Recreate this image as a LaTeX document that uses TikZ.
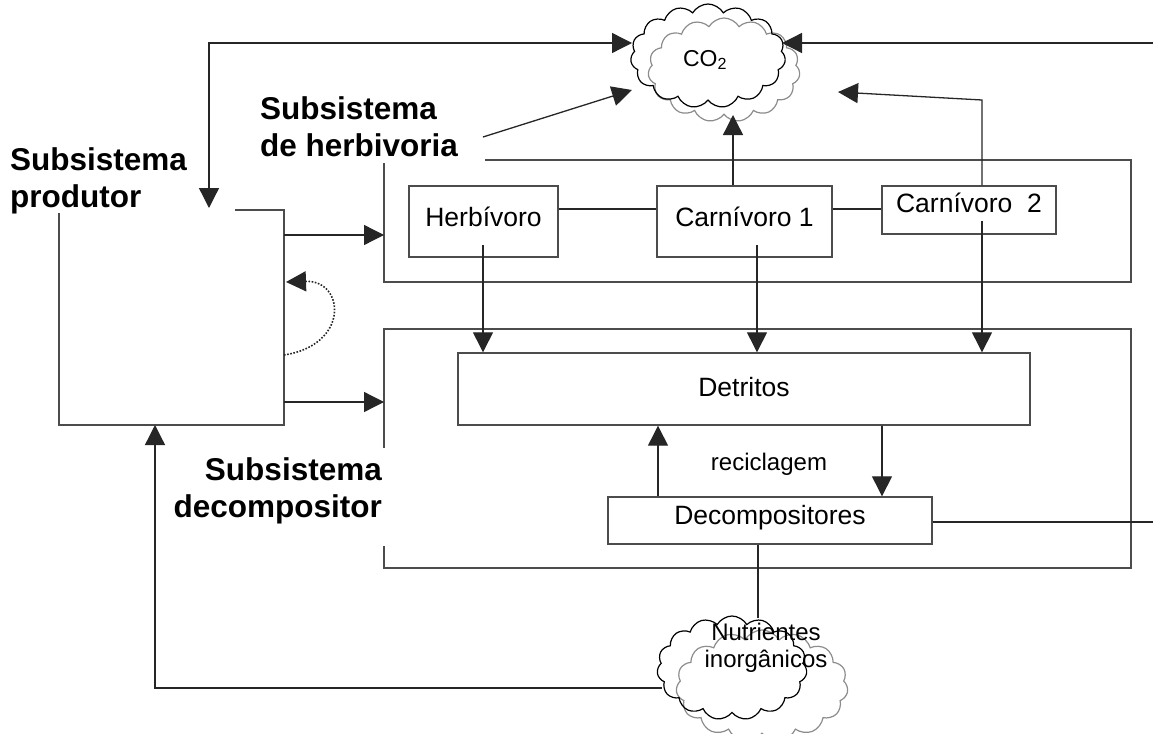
\documentclass[tikz,border=0pt]{standalone}
\usepackage{fontspec}
\setmainfont{Liberation Sans}
\usetikzlibrary{arrows.meta,shapes.symbols,calc}
\begin{document}
\begin{tikzpicture}[x=1pt,y=-1pt,
  ln/.style={line width=1.3pt, draw=black!85},
  frame/.style={line width=1.4pt, draw=black!70},
  tip/.style={-{Triangle[length=20pt,width=20pt]}},
  arr/.style={ln,tip},
  box/.style={frame, inner sep=0pt, text height=19pt, font=\fontsize{26.5}{30}\selectfont},
  sub/.style={font=\fontsize{31.5}{37}\bfseries\selectfont, inner sep=0pt},
  txt/.style={font=\fontsize{24}{27}\selectfont, inner sep=0pt, align=center},
  puffy/.style={cloud, cloud puffs=15, cloud puff arc=120, aspect=1.5,
    draw=black, line width=1.2pt, inner sep=0pt},
  puffyg/.style={puffy, draw=black!45},
]
\useasboundingbox (0,0) rectangle (1153,733);

% clouds
\node[puffyg, minimum width=152pt, minimum height=104pt] (co2g) at (724,70) {};
\node[puffy, minimum width=155pt, minimum height=104pt] (co2) at (708,56) {};
\node[txt, font=\fontsize{23}{27}\selectfont] (co2t) at (705,60) {CO\textsubscript{2}};

\node[puffyg, minimum width=172pt, minimum height=112pt] (nutg) at (762,686) {};
\node[puffy, minimum width=150pt, minimum height=104pt] (nut) at (732,668) {};
\node[txt] (nutt) at (766,648) {Nutrientes\\inorgânicos};

% subsystem frames
\coordinate (p1) at (235,210);
\coordinate (p2) at (284,210);
\coordinate (p3) at (284,425);
\coordinate (p4) at (59,425);
\coordinate (p5) at (59,213);
\draw[frame] (p1) -- (p2) -- (p3) -- (p4) -- (p5);

\coordinate (h1) at (485,160);
\coordinate (h2) at (1131,160);
\coordinate (h3) at (1131,282);
\coordinate (h4) at (384,282);
\coordinate (h5) at (384,163);
\draw[frame] (h1) -- (h2) -- (h3) -- (h4) -- (h5);

\coordinate (d1) at (384,448);
\coordinate (d2) at (384,329);
\coordinate (d3) at (1131,329);
\coordinate (d4) at (1131,568);
\coordinate (d5) at (384,568);
\coordinate (d6) at (384,546);
\draw[frame] (d1) -- (d2) -- (d3) -- (d4) -- (d5) -- (d6);

% compartments
\node[box, draw, text depth=9pt, minimum width=149pt, minimum height=71pt] (herb) at (483.5,221.5) {Herbívoro};
\node[box, draw, text depth=9pt, minimum width=175pt, minimum height=71pt] (car1) at (744.5,221.5) {Carnívoro 1};
\node[box, draw, text depth=14pt, minimum width=174pt, minimum height=48pt] (car2) at (969,210) {Carnívoro\ \ 2};
\node[box, draw, text depth=4pt, minimum width=572pt, minimum height=72pt] (det) at (744,389) {Detritos};
\node[box, text depth=11pt, minimum width=324pt, minimum height=47pt] (dec) at (770,520.5) {Decompositores};
\draw[frame] ($(dec.north west)+(74,0)$) -- (dec.north west) -- (dec.south west)
  -- (dec.south east) -- (dec.north east) -- ($(dec.north east)+(-74,0)$);

% labels
\node[sub, align=left, anchor=north west] (lprod) at (10,147) {Subsistema\\produtor};
\node[sub, align=left, anchor=north west] (lherb) at (260,96) {Subsistema\\de herbivoria};
\node[sub, align=right, anchor=north east] (ldec) at (382,457) {Subsistema\\decompositor};
\node[txt] (lrec) at (769,464) {reciclagem};

% exchanges with CO2
\coordinate (c1) at (209,43);
\draw[ln, {Triangle[length=20pt,width=20pt]}-{Triangle[length=20pt,width=20pt]}]
  (632,43) -- (c1) -- (209,208);
\coordinate (c2) at (1153,43);
\draw[arr] (c2) -- (782,43);
\coordinate (c3) at (483,137);
\draw[arr] (c3) -- (632,90);
\draw[arr] (car1.north -| 733,0) -- (733,115);
\coordinate (c4) at (982,100);
\draw[arr] (car2.north -| c4) -- (c4) -- (838,92);

% food chain
\draw[ln] (herb.east |- 0,209) -- (car1.west |- 0,209);
\draw[ln] (car1.east |- 0,209) -- (car2.west |- 0,209);
\draw[arr] (p2 |- 0,235) -- (h4 |- 0,235);
\draw[arr] (p3 |- 0,402) -- (d1 |- 0,402);
\draw[ln, line width=1.6pt, dash pattern=on 1.6pt off 1.6pt, tip]
  (284,355) .. controls (350,345) and (345,280) .. (286,282);

% to detritus
\coordinate (f1) at (483,245);
\coordinate (f2) at (757,245);
\coordinate (f3) at (982,221);
\draw[arr] (f1) -- (f1 |- det.north);
\draw[arr] (f2) -- (f2 |- det.north);
\draw[arr] (f3) -- (f3 |- det.north);

% recycling
\draw[arr] (dec.north -| 658,0) -- (det.south -| 658,0);
\draw[arr] (det.south -| 882,0) -- (dec.north -| 882,0);

% nutrients
\coordinate (e1) at (1153,522);
\draw[ln] (dec.east |- e1) -- (e1);
\draw[ln] (dec.south -| 758,0) -- (758,618);
\coordinate (n1) at (155,688);
\draw[arr] (662,688) -- (n1) -- (p4 -| n1);
\end{tikzpicture}
\end{document}
